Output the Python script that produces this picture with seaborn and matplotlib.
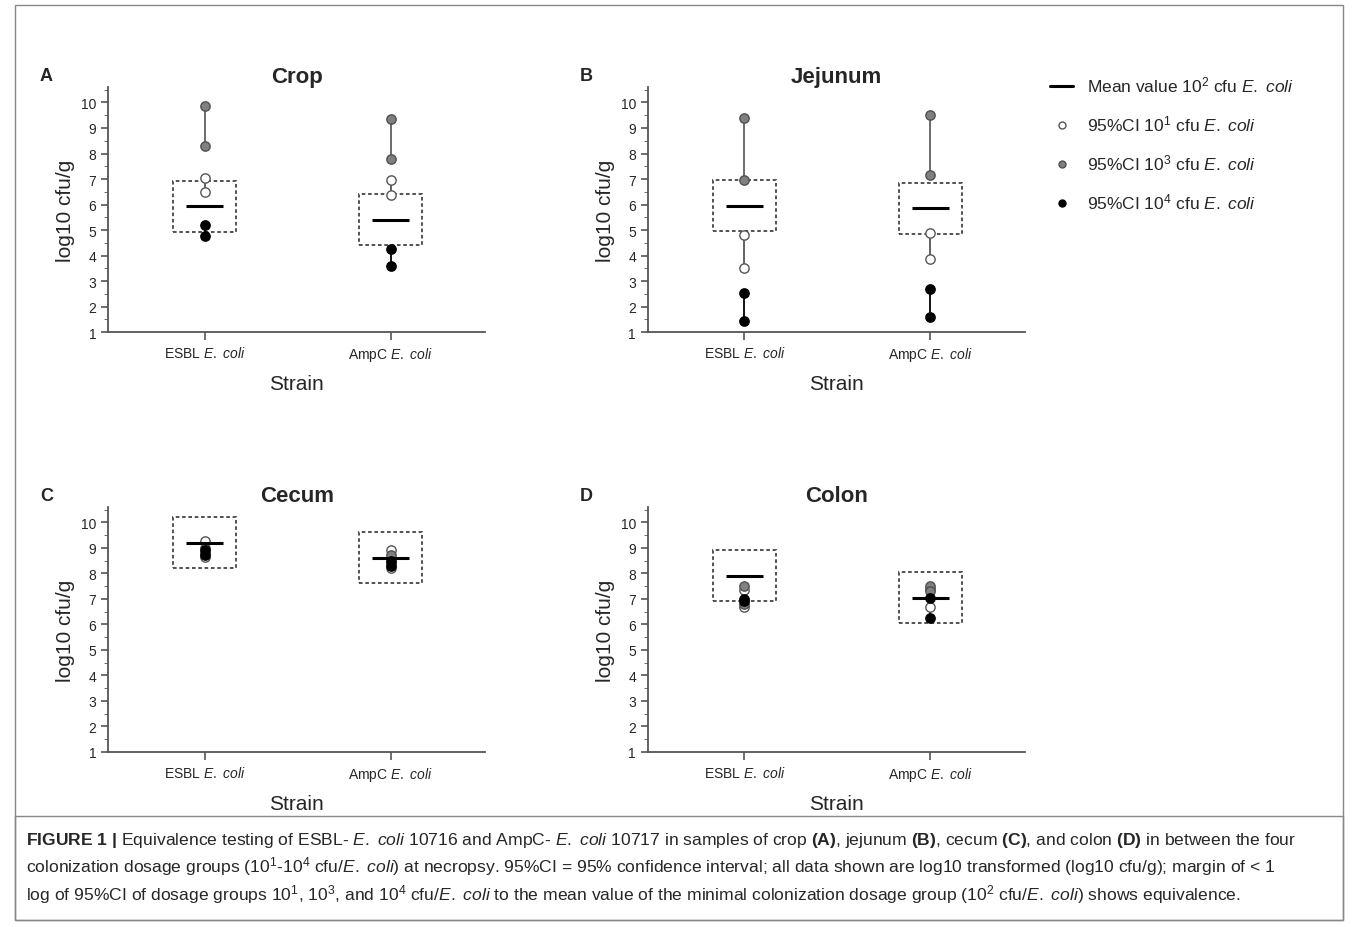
import numpy as np
import pandas as pd
import seaborn as sns
import matplotlib.pyplot as plt
from matplotlib.patches import Rectangle
from matplotlib.lines import Line2D

sns.set_style("ticks")
plt.rcParams['font.family'] = ['Liberation Sans', 'DejaVu Sans']
plt.rcParams['mathtext.fontset'] = 'custom'
plt.rcParams['mathtext.rm'] = 'Liberation Sans'
plt.rcParams['mathtext.it'] = 'Liberation Sans:italic'
plt.rcParams['mathtext.bf'] = 'Liberation Sans:bold'

panels = ['Crop', 'Jejunum', 'Cecum', 'Colon']
letters = ['A', 'B', 'C', 'D']
strains = ['ESBL', 'AmpC']

# mean of 10^2 group, per panel, per strain
mean_val = {'Crop': [5.93, 5.40], 'Jejunum': [5.95, 5.85],
            'Cecum': [9.20, 8.62], 'Colon': [7.90, 7.05]}
# 95%CI (upper, lower) per dosage group
ci_1 = {'Crop': [(7.05, 6.48), (6.95, 6.38)], 'Jejunum': [(4.80, 3.50), (4.90, 3.85)],
        'Cecum': [(9.25, 8.65), (8.90, 8.20)], 'Colon': [(7.35, 6.70), (7.40, 6.70)]}
ci_3 = {'Crop': [(9.85, 8.30), (9.35, 7.80)], 'Jejunum': [(9.40, 6.95), (9.50, 7.15)],
        'Cecum': [(9.00, 8.80), (8.70, 8.40)], 'Colon': [(7.50, 6.80), (7.50, 7.30)]}
ci_4 = {'Crop': [(5.20, 4.75), (4.25, 3.60)], 'Jejunum': [(2.55, 1.45), (2.70, 1.60)],
        'Cecum': [(8.90, 8.70), (8.50, 8.30)], 'Colon': [(7.00, 6.90), (7.05, 6.25)]}

groups = [('10$^1$', ci_1, 'white', '#555555', '#555555'),
          ('10$^3$', ci_3, '#808080', '#505050', '#606060'),
          ('10$^4$', ci_4, 'black', 'black', 'black')]

EC = '$\\it{E.}$ $\\it{coli}$'

fig = plt.figure(figsize=(13.58, 9.28), dpi=100)
fig.patches.append(Rectangle((0.011, 0.008), 0.978, 0.986, transform=fig.transFigure,
                             fill=False, ec='#888888', lw=1))
fig.patches.append(Rectangle((0.011, 0.008), 0.978, 0.112, transform=fig.transFigure,
                             fill=False, ec='#888888', lw=1))

pos = [(0.0795, 0.641), (0.477, 0.641), (0.0795, 0.1886), (0.477, 0.1886)]
for k, panel in enumerate(panels):
    ax = fig.add_axes([pos[k][0], pos[k][1], 0.278, 0.264])
    for j in range(2):
        m = mean_val[panel][j]
        ax.add_patch(Rectangle((j - 0.17, m - 1), 0.34, 2, fill=False, ec='#444444',
                               ls=(0, (2, 1.5)), lw=1.3, zorder=1))
        ax.hlines(m, j - 0.1, j + 0.1, color='black', lw=2.2, zorder=5)
    for name, ci, fc, ec, lc in groups:
        rows = []
        for j in range(2):
            for v in ci[panel][j]:
                rows.append({'x': j, 'y': v})
            ax.plot([j, j], ci[panel][j], color=lc, lw=1.3, zorder=2)
        df = pd.DataFrame(rows)
        sns.scatterplot(data=df, x='x', y='y', ax=ax, color=fc, edgecolor=ec,
                        linewidth=1, s=45, zorder=3, legend=False)
    ax.set_xlim(-0.52, 1.51)
    ax.set_ylim(1, 10.6)
    ax.set_yticks(range(1, 11))
    ax.set_yticks(np.arange(1.5, 10.6, 1), minor=True)
    ax.set_xticks([0, 1])
    ax.set_xticklabels(['ESBL ' + EC, 'AmpC ' + EC], fontsize=10)
    ax.tick_params(axis='y', labelsize=10, length=5, width=1.2, color='#555555')
    ax.tick_params(axis='y', which='minor', length=3, color='#555555')
    ax.tick_params(axis='x', length=6, width=1.2, color='#555555')
    ax.spines['top'].set_visible(False)
    ax.spines['right'].set_visible(False)
    ax.spines['bottom'].set_bounds(-0.52, 1.51)
    ax.spines['left'].set_bounds(1, 10.6)
    for s in ['left', 'bottom']:
        ax.spines[s].set_linewidth(1.3)
        ax.spines[s].set_color('#555555')
    ax.set_xlabel('Strain', fontsize=15, labelpad=8)
    ax.set_ylabel('log10 cfu/g', fontsize=15, labelpad=4)
    ax.set_title(panel, fontsize=16, fontweight='bold', pad=4)
    ax.text(-0.18, 1.03, letters[k], transform=ax.transAxes, fontsize=13, fontweight='bold')

handles = [Line2D([], [], color='black', lw=2.2, label='Mean value 10$^2$ cfu ' + EC)]
for name, ci, fc, ec, lc in groups:
    handles.append(Line2D([], [], ls='', marker='o', ms=5, mfc=fc, mec=ec,
                          label='95%CI ' + name + ' cfu ' + EC))
fig.legend(handles=handles, loc='upper left', bbox_to_anchor=(0.762, 0.935), frameon=False,
           fontsize=12.5, handlelength=1.3, labelspacing=1.1)

caption = ("$\\bf{FIGURE\\ 1\\ |}$ Equivalence testing of ESBL- " + EC + " 10716 and AmpC- " + EC + " 10717 "
           "in samples of crop $\\bf{(A)}$, jejunum $\\bf{(B)}$, cecum $\\bf{(C)}$, and colon $\\bf{(D)}$ in between the four\n"
           "colonization dosage groups (10$^1$-10$^4$ cfu/$\\it{E.}$ $\\it{coli}$) at necropsy. 95%CI = 95% confidence interval; "
           "all data shown are log10 transformed (log10 cfu/g); margin of < 1\n"
           "log of 95%CI of dosage groups 10$^1$, 10$^3$, and 10$^4$ cfu/$\\it{E.}$ $\\it{coli}$ to the mean value of the minimal "
           "colonization dosage group (10$^2$ cfu/$\\it{E.}$ $\\it{coli}$) shows equivalence.")
fig.text(0.019, 0.064, caption, fontsize=12.6, va='center', ha='left', linespacing=1.3)

fig.savefig('out.png', dpi=100)
